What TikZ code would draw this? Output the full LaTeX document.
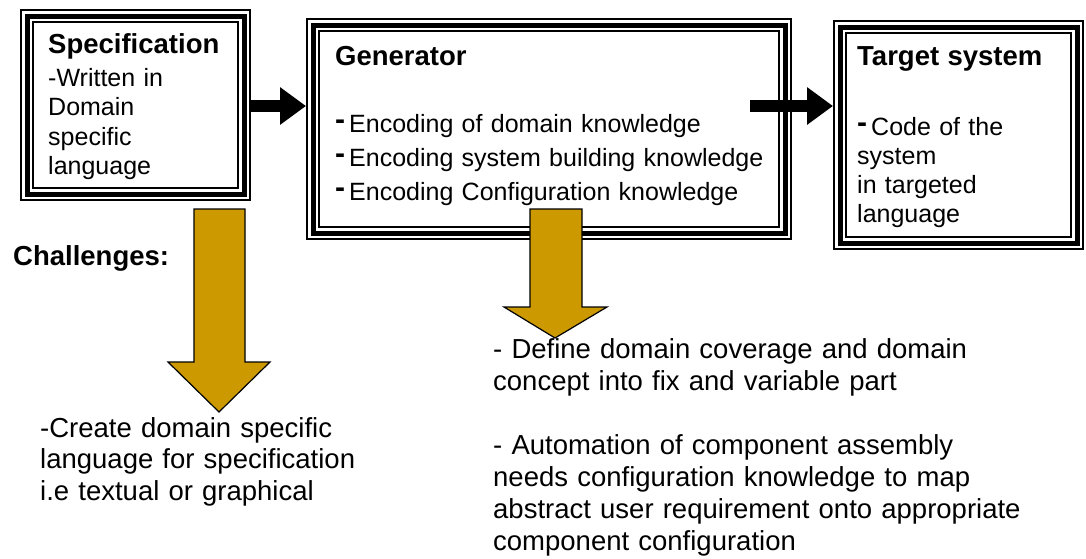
\documentclass[tikz,border=0pt]{standalone}
\usepackage{fontspec}
\setmainfont{Liberation Sans}
\usetikzlibrary{positioning,arrows.meta}
\definecolor{gold}{RGB}{204,153,0}
\newcommand{\hdash}{\raisebox{3pt}{\fontsize{30}{30}\selectfont\textbf{-}}\hspace{4pt}}
\newcommand{\ttl}[1]{{\bfseries\fontsize{27.5}{29}\selectfont #1}}

\begin{document}
\begin{tikzpicture}[x=1pt, y=-1pt,
    frame/.style={rectangle, draw=black, fill=white, line width=14pt, inner sep=0pt,
        postaction={draw=white, line width=10pt}, postaction={draw=black, line width=5pt}},
    txt/.style={anchor=base west, inner sep=0pt, align=left},
    flow/.style={line width=12pt, -{Triangle[length=26pt,width=36pt]}},
    challenge/.style={draw=black, fill=gold, line width=1.2pt, line join=miter}]
    \useasboundingbox (0,0) rectangle (1086,558);

    % Boxes
    \node[frame, minimum width=217pt, minimum height=178pt] (spec) at (135.5,105) {};
    \node[frame, minimum width=472pt, minimum height=208pt] (gen) at (549,129) {};
    \node[frame, minimum width=237pt, minimum height=216pt] (target) at (958.5,135) {};

    % Box texts
    \node[txt, text width=190pt, font=\fontsize{25}{29.5}\selectfont] (specText) at (48,53)
        {\ttl{Specification}\\[3.5pt] -Written in\\ Domain\\ specific\\ language};
    \node[txt, text width=440pt, font=\fontsize{25}{34}\selectfont] (genText) at (335,65)
        {\ttl{Generator}\\[33pt] \hdash Encoding of domain knowledge\\ \hdash Encoding system building knowledge\\ \hdash Encoding Configuration knowledge};
    \node[txt, text width=215pt, font=\fontsize{25}{29}\selectfont] (targetText) at (857,65)
        {\ttl{Target system}\\[41pt] \hdash Code of the\\ system\\ in targeted\\ language};

    % Arrows
    \coordinate (flowY) at (0,106);
    \coordinate (genOut) at (750,106);
    \draw[flow] (spec.east |- flowY) -- (gen.west |- flowY);
    \draw[flow] (genOut) -- (target.west |- genOut);

    % Challenges
    \draw[challenge] (194,209) -- (245,209) -- (245,362) -- (270,362) -- (219,412) -- (168,362) -- (194,362) -- cycle;
    \draw[challenge] (530,209) -- (582,209) -- (582,307) -- (607,307) -- (555,338) -- (504,307) -- (530,307) -- cycle;

    \node[txt] (challenges) at (13,265) {\ttl{Challenges:}};
    \node[txt, text width=340pt, font=\fontsize{27.5}{31.5}\selectfont] (specChallenge) at (40,437)
        {-Create domain specific\\ language for specification\\ i.e textual or graphical};
    \node[txt, text width=590pt, font=\fontsize{27.5}{32}\selectfont] (genChallenge) at (493,358)
        {- Define domain coverage and domain\\ concept into fix and variable part\\[32pt] - Automation of component assembly\\ needs configuration knowledge to map\\ abstract user requirement onto appropriate\\ component configuration};
\end{tikzpicture}
\end{document}
